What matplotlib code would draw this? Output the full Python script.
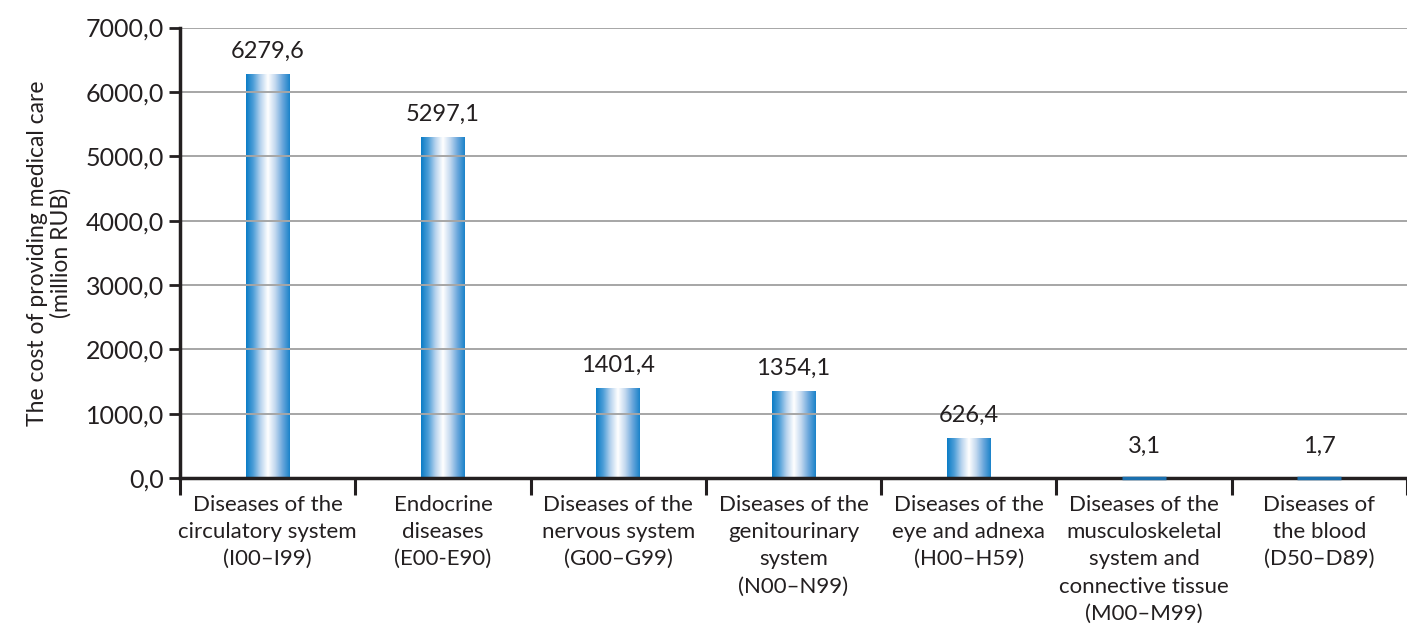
import numpy as np
import matplotlib.pyplot as plt
from matplotlib.colors import LinearSegmentedColormap
from matplotlib.ticker import FuncFormatter, FixedLocator

plt.rcParams['font.family'] = ['Lato', 'DejaVu Sans']

categories = [
    'Diseases of the\ncirculatory system\n(I00\u2013I99)',
    'Endocrine\ndiseases\n(E00-E90)',
    'Diseases of the\nnervous system\n(G00\u2013G99)',
    'Diseases of the\ngenitourinary\nsystem\n(N00\u2013N99)',
    'Diseases of the\neye and adnexa\n(H00\u2013H59)',
    'Diseases of the\nmusculoskeletal\nsystem and\nconnective tissue\n(M00\u2013M99)',
    'Diseases of\nthe blood\n(D50\u2013D89)',
]
values = [6279.6, 5297.1, 1401.4, 1354.1, 626.4, 3.1, 1.7]
labels = ['6279,6', '5297,1', '1401,4', '1354,1', '626,4', '3,1', '1,7']

ink = '#231f20'

# blue - white - blue cylinder shading
cyl = LinearSegmentedColormap.from_list(
    'cyl', ['#0a7cc6', '#4f9fd8', '#b9d4ee', '#ffffff', '#c2d8ef', '#6aa7dc', '#1a82c9'])
grad = np.linspace(0, 1, 256).reshape(1, -1)

fig = plt.figure(figsize=(14.07, 6.26), dpi=100)
ax = fig.add_axes([0.128, 0.236, 0.872, 0.72])

x = np.arange(len(values))
w = 0.25
bars = ax.bar(x, values, width=w, color='none', edgecolor='none', zorder=1)
for b in bars:
    x0, y0 = b.get_x(), b.get_y()
    h = b.get_height()
    im = ax.imshow(grad, cmap=cyl, aspect='auto', zorder=1,
                   extent=(x0, x0 + w, y0, y0 + max(h, 0.1)))
    im.set_clip_path(b)
    if h < 70:
        # tiny bars: thin blue strip resting on the axis
        ax.plot([x0, x0 + w], [h, h], color='#1a6fae', lw=2.5, zorder=4,
                solid_capstyle='butt', clip_on=False)

for xi, v, s in zip(x, values, labels):
    off = 190 if v > 100 else 330
    ax.text(xi, v + off, s, ha='center', va='bottom', fontsize=17, color=ink)

ax.set_xlim(-0.5, len(values) - 0.5)
ax.set_ylim(0, 7000)
ax.set_yticks(np.arange(0, 7001, 1000))
ax.yaxis.set_major_formatter(FuncFormatter(lambda v, p: f'{v:.1f}'.replace('.', ',')))
ax.yaxis.grid(True, color='#a6a6a6', lw=1.4)
ax.set_axisbelow(False)
for gl in ax.get_ygridlines():
    gl.set_zorder(2)

ax.xaxis.set_major_locator(FixedLocator(np.arange(-0.5, len(values), 1.0)))
ax.xaxis.set_major_formatter(FuncFormatter(lambda v, p: ''))
ax.xaxis.set_minor_locator(FixedLocator(x))
ax.set_xticklabels(categories, minor=True, linespacing=1.45)
ax.tick_params(axis='x', which='major', length=12, width=2.2, direction='out', color=ink)
ax.tick_params(axis='x', which='minor', length=0, labelsize=16, pad=12, labelcolor=ink)
ax.tick_params(axis='y', length=8, width=2, labelsize=18, colors=ink)

for side in ['top', 'right']:
    ax.spines[side].set_visible(False)
for side in ['left', 'bottom']:
    ax.spines[side].set_linewidth(2.5)
    ax.spines[side].set_color(ink)
    ax.spines[side].set_zorder(3)

ax.set_ylabel('The cost of providing medical care\n(million RUB)', fontsize=16.5,
              color=ink, labelpad=10, linespacing=1.15)

fig.savefig('out.png', dpi=100)
